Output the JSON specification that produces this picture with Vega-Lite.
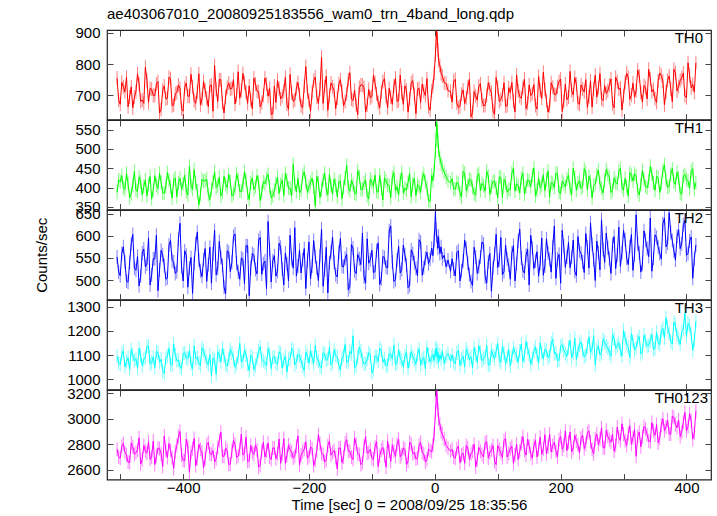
{
"$schema": "https://vega.github.io/schema/vega-lite/v6.json",
"padding": {"left": 34, "top": 6, "right": 5, "bottom": 5},
"spacing": 0,
"bounds": "flush",
"datasets": {"lc": [
{"t":-505,"a":755,"b":388,"c":552,"d":1095,"e":2760},
{"t":-500,"a":671,"b":415,"c":510,"d":1062,"e":2690},
{"t":-495,"a":727,"b":400,"c":575,"d":1118,"e":2805},
{"t":-490,"a":758,"b":437,"c":498,"d":1074,"e":2715},
{"t":-485,"a":694,"b":374,"c":540,"d":1041,"e":2655},
{"t":-480,"a":660,"b":407,"c":603,"d":1103,"e":2780},
{"t":-475,"a":711,"b":393,"c":522,"d":1086,"e":2735},
{"t":-470,"a":736,"b":427,"c":487,"d":1129,"e":2850},
{"t":-465,"a":685,"b":381,"c":561,"d":1057,"e":2680},
{"t":-460,"a":790,"b":420,"c":530,"d":1092,"e":2745},
{"t":-455,"a":677,"b":408,"c":595,"d":1138,"e":2820},
{"t":-450,"a":719,"b":371,"c":512,"d":1070,"e":2700},
{"t":-445,"a":699,"b":431,"c":548,"d":1049,"e":2640},
{"t":-440,"a":744,"b":398,"c":476,"d":1111,"e":2770},
{"t":-435,"a":655,"b":414,"c":567,"d":1083,"e":2725},
{"t":-430,"a":730,"b":386,"c":533,"d":1025,"e":2865},
{"t":-425,"a":691,"b":439,"c":505,"d":1097,"e":2695},
{"t":-420,"a":753,"b":402,"c":589,"d":1064,"e":2750},
{"t":-415,"a":669,"b":419,"c":541,"d":1146,"e":2610},
{"t":-410,"a":708,"b":376,"c":519,"d":1078,"e":2790},
{"t":-405,"a":722,"b":424,"c":628,"d":1052,"e":2900},
{"t":-400,"a":649,"b":410,"c":498,"d":1107,"e":2675},
{"t":-395,"a":739,"b":390,"c":556,"d":1089,"e":2840},
{"t":-390,"a":697,"b":455,"c":527,"d":1120,"e":2580},
{"t":-385,"a":727,"b":395,"c":470,"d":1043,"e":2765},
{"t":-380,"a":674,"b":412,"c":582,"d":1085,"e":2630},
{"t":-375,"a":769,"b":355,"c":545,"d":1068,"e":2800},
{"t":-370,"a":688,"b":422,"c":508,"d":1131,"e":2740},
{"t":-365,"a":716,"b":417,"c":571,"d":1096,"e":2685},
{"t":-360,"a":663,"b":383,"c":535,"d":1060,"e":2815},
{"t":-355,"a":733,"b":396,"c":493,"d":1015,"e":2720},
{"t":-350,"a":795,"b":441,"c":612,"d":1081,"e":2660},
{"t":-345,"a":680,"b":405,"c":526,"d":1114,"e":2775},
{"t":-340,"a":750,"b":378,"c":551,"d":1073,"e":2895},
{"t":-335,"a":643,"b":429,"c":484,"d":1099,"e":2705},
{"t":-330,"a":725,"b":400,"c":566,"d":1055,"e":2750},
{"t":-325,"a":720,"b":415,"c":519,"d":1125,"e":2645},
{"t":-320,"a":750,"b":385,"c":598,"d":1088,"e":2830},
{"t":-315,"a":700,"b":436,"c":538,"d":1066,"e":2695},
{"t":-310,"a":690,"b":391,"c":502,"d":1149,"e":2760},
{"t":-305,"a":770,"b":407,"c":547,"d":1077,"e":2715},
{"t":-300,"a":710,"b":420,"c":578,"d":1102,"e":2855},
{"t":-295,"a":730,"b":369,"c":465,"d":1036,"e":2670},
{"t":-290,"a":657,"b":425,"c":560,"d":1091,"e":2735},
{"t":-285,"a":736,"b":403,"c":524,"d":1058,"e":2795},
{"t":-280,"a":711,"b":414,"c":590,"d":1117,"e":2620},
{"t":-275,"a":677,"b":388,"c":513,"d":1082,"e":2745},
{"t":-270,"a":755,"b":410,"c":543,"d":1069,"e":2700},
{"t":-265,"a":697,"b":434,"c":632,"d":1127,"e":2810},
{"t":-260,"a":638,"b":373,"c":496,"d":1045,"e":2680},
{"t":-255,"a":730,"b":393,"c":555,"d":1094,"e":2770},
{"t":-250,"a":747,"b":427,"c":520,"d":1063,"e":2725},
{"t":-245,"a":688,"b":408,"c":574,"d":1108,"e":2650},
{"t":-240,"a":713,"b":379,"c":489,"d":1079,"e":2845},
{"t":-235,"a":671,"b":419,"c":537,"d":1030,"e":2710},
{"t":-230,"a":767,"b":398,"c":601,"d":1086,"e":2755},
{"t":-225,"a":680,"b":460,"c":527,"d":1121,"e":2690},
{"t":-220,"a":722,"b":390,"c":509,"d":1072,"e":2785},
{"t":-215,"a":702,"b":386,"c":568,"d":1098,"e":2635},
{"t":-210,"a":660,"b":431,"c":546,"d":1054,"e":2740},
{"t":-205,"a":792,"b":415,"c":481,"d":1112,"e":2820},
{"t":-200,"a":685,"b":402,"c":586,"d":1067,"e":2705},
{"t":-195,"a":708,"b":424,"c":532,"d":1090,"e":2765},
{"t":-190,"a":758,"b":352,"c":553,"d":1140,"e":2675},
{"t":-185,"a":674,"b":412,"c":499,"d":1076,"e":2875},
{"t":-180,"a":822,"b":395,"c":615,"d":1048,"e":2730},
{"t":-175,"a":727,"b":437,"c":524,"d":1105,"e":2660},
{"t":-170,"a":652,"b":381,"c":471,"d":1084,"e":2790},
{"t":-165,"a":739,"b":405,"c":563,"d":1061,"e":2715},
{"t":-160,"a":716,"b":422,"c":540,"d":1123,"e":2750},
{"t":-155,"a":691,"b":376,"c":507,"d":1093,"e":2605},
{"t":-150,"a":750,"b":417,"c":594,"d":1039,"e":2770},
{"t":-145,"a":666,"b":400,"c":530,"d":1100,"e":2700},
{"t":-140,"a":705,"b":458,"c":558,"d":1071,"e":2835},
{"t":-135,"a":772,"b":391,"c":486,"d":1116,"e":2745},
{"t":-130,"a":683,"b":408,"c":572,"d":1180,"e":2680},
{"t":-125,"a":669,"b":383,"c":515,"d":1056,"e":2800},
{"t":-120,"a":725,"b":429,"c":548,"d":1133,"e":2720},
{"t":-115,"a":733,"b":396,"c":606,"d":1080,"e":2655},
{"t":-110,"a":646,"b":420,"c":493,"d":1065,"e":2860},
{"t":-105,"a":719,"b":371,"c":538,"d":1110,"e":2735},
{"t":-100,"a":697,"b":414,"c":567,"d":1028,"e":2690},
{"t":-95,"a":741,"b":432,"c":519,"d":1097,"e":2780},
{"t":-90,"a":677,"b":388,"c":584,"d":1074,"e":2625},
{"t":-85,"a":711,"b":398,"c":503,"d":1119,"e":2755},
{"t":-80,"a":753,"b":425,"c":551,"d":1085,"e":2710},
{"t":-75,"a":660,"b":407,"c":528,"d":1059,"e":2825},
{"t":-70,"a":694,"b":374,"c":622,"d":1103,"e":2665},
{"t":-65,"a":730,"b":439,"c":497,"d":1142,"e":2745},
{"t":-60,"a":680,"b":403,"c":545,"d":1069,"e":2800},
{"t":-55,"a":764,"b":419,"c":516,"d":1088,"e":2700},
{"t":-50,"a":671,"b":386,"c":579,"d":1051,"e":2770},
{"t":-45,"a":716,"b":393,"c":534,"d":1113,"e":2640},
{"t":-40,"a":688,"b":436,"c":488,"d":1078,"e":2815},
{"t":-35,"a":747,"b":410,"c":560,"d":1095,"e":2725},
{"t":-30,"a":641,"b":379,"c":526,"d":1062,"e":2685},
{"t":-25,"a":722,"b":402,"c":591,"d":1126,"e":2790},
{"t":-20,"a":736,"b":424,"c":511,"d":1083,"e":2735},
{"t":-15,"a":699,"b":415,"c":549,"d":1044,"e":2660},
{"t":-10,"a":663,"b":366,"c":537,"d":1101,"e":2760},
{"t":-5,"a":713,"b":431,"c":572,"d":1090,"e":2740},
{"t":-3,"a":728,"b":418,"c":555,"d":1102,"e":2790},
{"t":-1,"a":770,"b":445,"c":590,"d":1078,"e":2880},
{"t":1,"a":830,"b":495,"c":652,"d":1125,"e":3050},
{"t":2,"a":872,"b":525,"c":615,"d":1096,"e":3130},
{"t":3,"a":905,"b":570,"c":600,"d":1130,"e":3220},
{"t":4,"a":880,"b":548,"c":585,"d":1090,"e":3150},
{"t":5,"a":845,"b":520,"c":572,"d":1112,"e":3070},
{"t":6,"a":812,"b":497,"c":598,"d":1070,"e":3000},
{"t":8,"a":796,"b":478,"c":560,"d":1101,"e":2960},
{"t":10,"a":770,"b":462,"c":575,"d":1083,"e":2900},
{"t":12,"a":762,"b":452,"c":548,"d":1118,"e":2880},
{"t":15,"a":740,"b":440,"c":556,"d":1064,"e":2840},
{"t":18,"a":738,"b":428,"c":530,"d":1095,"e":2790},
{"t":21,"a":715,"b":418,"c":545,"d":1107,"e":2770},
{"t":25,"a":712,"b":412,"c":520,"d":1076,"e":2745},
{"t":30,"a":745,"b":396,"c":525,"d":1072,"e":2700},
{"t":35,"a":675,"b":413,"c":562,"d":1110,"e":2765},
{"t":40,"a":664,"b":386,"c":498,"d":1058,"e":2655},
{"t":45,"a":717,"b":442,"c":543,"d":1095,"e":2730},
{"t":50,"a":692,"b":392,"c":571,"d":1126,"e":2790},
{"t":55,"a":751,"b":422,"c":512,"d":1081,"e":2680},
{"t":60,"a":645,"b":400,"c":488,"d":1047,"e":2745},
{"t":65,"a":698,"b":380,"c":552,"d":1104,"e":2620},
{"t":70,"a":729,"b":436,"c":530,"d":1139,"e":2775},
{"t":75,"a":684,"b":411,"c":586,"d":1077,"e":2720},
{"t":80,"a":667,"b":391,"c":507,"d":1093,"e":2810},
{"t":85,"a":740,"b":430,"c":541,"d":1061,"e":2690},
{"t":90,"a":709,"b":403,"c":475,"d":1122,"e":2755},
{"t":95,"a":639,"b":417,"c":559,"d":1085,"e":2665},
{"t":100,"a":725,"b":373,"c":528,"d":1148,"e":2790},
{"t":105,"a":687,"b":426,"c":596,"d":1070,"e":2730},
{"t":110,"a":740,"b":421,"c":519,"d":1109,"e":2830},
{"t":115,"a":666,"b":388,"c":547,"d":1091,"e":2700},
{"t":120,"a":708,"b":395,"c":502,"d":1055,"e":2765},
{"t":125,"a":681,"b":450,"c":578,"d":1131,"e":2650},
{"t":130,"a":765,"b":410,"c":537,"d":1098,"e":2800},
{"t":135,"a":696,"b":386,"c":615,"d":1117,"e":2745},
{"t":140,"a":724,"b":437,"c":521,"d":1074,"e":2860},
{"t":145,"a":657,"b":402,"c":556,"d":1156,"e":2715},
{"t":150,"a":733,"b":417,"c":489,"d":1102,"e":2785},
{"t":155,"a":706,"b":431,"c":572,"d":1085,"e":2690},
{"t":160,"a":667,"b":378,"c":543,"d":1134,"e":2830},
{"t":165,"a":760,"b":425,"c":509,"d":1067,"e":2760},
{"t":170,"a":690,"b":408,"c":595,"d":1112,"e":2720},
{"t":175,"a":719,"b":392,"c":532,"d":1125,"e":2875},
{"t":180,"a":646,"b":443,"c":561,"d":1089,"e":2780},
{"t":185,"a":740,"b":413,"c":518,"d":1150,"e":2740},
{"t":190,"a":703,"b":400,"c":622,"d":1106,"e":2815},
{"t":195,"a":727,"b":436,"c":547,"d":1078,"e":2700},
{"t":200,"a":752,"b":385,"c":493,"d":1137,"e":2860},
{"t":205,"a":680,"b":410,"c":576,"d":1121,"e":2790},
{"t":210,"a":686,"b":422,"c":552,"d":1095,"e":2750},
{"t":215,"a":776,"b":397,"c":528,"d":1162,"e":2895},
{"t":220,"a":701,"b":450,"c":590,"d":1110,"e":2770},
{"t":225,"a":735,"b":393,"c":510,"d":1082,"e":2825},
{"t":230,"a":671,"b":418,"c":566,"d":1143,"e":2730},
{"t":235,"a":720,"b":403,"c":541,"d":1118,"e":2870},
{"t":240,"a":750,"b":440,"c":605,"d":1099,"e":2800},
{"t":245,"a":695,"b":429,"c":527,"d":1175,"e":2905},
{"t":250,"a":662,"b":373,"c":581,"d":1126,"e":2760},
{"t":255,"a":764,"b":409,"c":499,"d":1060,"e":2840},
{"t":260,"a":724,"b":446,"c":562,"d":1139,"e":2795},
{"t":265,"a":689,"b":398,"c":636,"d":1112,"e":2930},
{"t":270,"a":731,"b":418,"c":540,"d":1155,"e":2770},
{"t":275,"a":715,"b":434,"c":573,"d":1130,"e":2860},
{"t":280,"a":752,"b":387,"c":515,"d":1096,"e":2815},
{"t":285,"a":660,"b":425,"c":598,"d":1168,"e":2745},
{"t":290,"a":744,"b":409,"c":557,"d":1140,"e":2935},
{"t":295,"a":723,"b":450,"c":531,"d":1119,"e":2830},
{"t":300,"a":698,"b":393,"c":612,"d":1203,"e":2880},
{"t":305,"a":771,"b":403,"c":549,"d":1145,"e":2790},
{"t":310,"a":687,"b":439,"c":575,"d":1090,"e":2945},
{"t":315,"a":739,"b":417,"c":522,"d":1158,"e":2850},
{"t":320,"a":714,"b":430,"c":647,"d":1132,"e":2705},
{"t":325,"a":762,"b":381,"c":561,"d":1177,"e":2895},
{"t":330,"a":678,"b":445,"c":536,"d":1115,"e":2860},
{"t":335,"a":724,"b":403,"c":590,"d":1160,"e":2920},
{"t":340,"a":783,"b":417,"c":553,"d":1141,"e":2825},
{"t":345,"a":711,"b":436,"c":520,"d":1186,"e":2970},
{"t":350,"a":689,"b":393,"c":602,"d":1128,"e":2870},
{"t":355,"a":746,"b":426,"c":574,"d":1152,"e":2810},
{"t":360,"a":763,"b":410,"c":548,"d":1199,"e":2950},
{"t":365,"a":669,"b":459,"c":640,"d":1170,"e":2905},
{"t":370,"a":748,"b":401,"c":583,"d":1214,"e":2990},
{"t":375,"a":721,"b":434,"c":607,"d":1158,"e":2880},
{"t":380,"a":783,"b":415,"c":566,"d":1236,"e":3010},
{"t":385,"a":714,"b":440,"c":598,"d":1181,"e":2930},
{"t":390,"a":747,"b":386,"c":571,"d":1145,"e":2860},
{"t":395,"a":771,"b":430,"c":625,"d":1207,"e":2975},
{"t":400,"a":692,"b":422,"c":556,"d":1178,"e":2905},
{"t":405,"a":763,"b":398,"c":588,"d":1222,"e":3040},
{"t":410,"a":735,"b":449,"c":504,"d":1120,"e":2840},
{"t":415,"a":804,"b":412,"c":579,"d":1240,"e":3060},
{"t":-502.5,"a":685,"b":420,"c":518,"d":1068,"e":2700},
{"t":-497.5,"a":741,"b":431,"c":560,"d":1105,"e":2785},
{"t":-492.5,"a":711,"b":395,"c":541,"d":1052,"e":2735},
{"t":-487.5,"a":663,"b":410,"c":495,"d":1090,"e":2660},
{"t":-482.5,"a":727,"b":385,"c":582,"d":1124,"e":2810},
{"t":-477.5,"a":694,"b":442,"c":527,"d":1077,"e":2720},
{"t":-472.5,"a":769,"b":390,"c":553,"d":1046,"e":2755},
{"t":-467.5,"a":680,"b":415,"c":509,"d":1099,"e":2645},
{"t":-462.5,"a":674,"b":403,"c":570,"d":1082,"e":2790},
{"t":-457.5,"a":747,"b":378,"c":536,"d":1136,"e":2730},
{"t":-452.5,"a":722,"b":429,"c":489,"d":1063,"e":2680},
{"t":-447.5,"a":699,"b":393,"c":548,"d":1093,"e":2825},
{"t":-442.5,"a":736,"b":407,"c":601,"d":1115,"e":2710},
{"t":-437.5,"a":643,"b":437,"c":523,"d":1071,"e":2765},
{"t":-432.5,"a":716,"b":386,"c":557,"d":1034,"e":2625},
{"t":-427.5,"a":688,"b":402,"c":502,"d":1087,"e":2750},
{"t":-422.5,"a":758,"b":419,"c":579,"d":1128,"e":2805},
{"t":-417.5,"a":666,"b":373,"c":544,"d":1059,"e":2695},
{"t":-412.5,"a":705,"b":425,"c":515,"d":1101,"e":2740},
{"t":-407.5,"a":733,"b":412,"c":592,"d":1079,"e":2860},
{"t":-402.5,"a":657,"b":396,"c":530,"d":1044,"e":2715},
{"t":-397.5,"a":725,"b":432,"c":566,"d":1110,"e":2670},
{"t":-392.5,"a":697,"b":381,"c":484,"d":1085,"e":2780},
{"t":-387.5,"a":767,"b":405,"c":551,"d":1066,"e":2735},
{"t":-382.5,"a":683,"b":446,"c":538,"d":1139,"e":2845},
{"t":-377.5,"a":711,"b":391,"c":608,"d":1092,"e":2690},
{"t":-372.5,"a":669,"b":383,"c":521,"d":1057,"e":2760},
{"t":-367.5,"a":744,"b":417,"c":546,"d":1118,"e":2615},
{"t":-362.5,"a":691,"b":422,"c":497,"d":1074,"e":2795},
{"t":-357.5,"a":730,"b":369,"c":574,"d":1102,"e":2725},
{"t":-352.5,"a":649,"b":414,"c":559,"d":1089,"e":2750},
{"t":-347.5,"a":719,"b":400,"c":512,"d":1021,"e":2685},
{"t":-342.5,"a":750,"b":427,"c":587,"d":1097,"e":2830},
{"t":-337.5,"a":677,"b":388,"c":533,"d":1130,"e":2705},
{"t":-332.5,"a":694,"b":408,"c":469,"d":1062,"e":2770},
{"t":-327.5,"a":739,"b":434,"c":563,"d":1084,"e":2640},
{"t":-322.5,"a":722,"b":378,"c":540,"d":1109,"e":2745},
{"t":-317.5,"a":672,"b":398,"c":604,"d":1050,"e":2800},
{"t":-312.5,"a":775,"b":420,"c":519,"d":1093,"e":2710},
{"t":-307.5,"a":716,"b":390,"c":550,"d":1072,"e":2880},
{"t":-302.5,"a":740,"b":441,"c":492,"d":1121,"e":2730},
{"t":-297.5,"a":674,"b":385,"c":577,"d":1064,"e":2665},
{"t":-292.5,"a":685,"b":412,"c":528,"d":1098,"e":2790},
{"t":-287.5,"a":755,"b":395,"c":556,"d":1041,"e":2720},
{"t":-282.5,"a":713,"b":431,"c":514,"d":1086,"e":2755},
{"t":-277.5,"a":663,"b":366,"c":596,"d":1134,"e":2635},
{"t":-272.5,"a":699,"b":415,"c":537,"d":1076,"e":2815},
{"t":-267.5,"a":736,"b":424,"c":481,"d":1058,"e":2745},
{"t":-262.5,"a":722,"b":402,"c":569,"d":1105,"e":2700},
{"t":-257.5,"a":641,"b":379,"c":543,"d":1091,"e":2770},
{"t":-252.5,"a":677,"b":410,"c":509,"d":1069,"e":2685},
{"t":-247.5,"a":722,"b":385,"c":583,"d":1114,"e":2840},
{"t":-242.5,"a":697,"b":419,"c":525,"d":1047,"e":2725},
{"t":-237.5,"a":758,"b":437,"c":561,"d":1095,"e":2650},
{"t":-232.5,"a":655,"b":398,"c":498,"d":1082,"e":2795},
{"t":-227.5,"a":708,"b":378,"c":548,"d":1127,"e":2740},
{"t":-222.5,"a":685,"b":408,"c":618,"d":1060,"e":2705},
{"t":-217.5,"a":741,"b":424,"c":532,"d":1103,"e":2865},
{"t":-212.5,"a":666,"b":393,"c":516,"d":1077,"e":2715},
{"t":-207.5,"a":730,"b":441,"c":571,"d":1038,"e":2760},
{"t":-202.5,"a":711,"b":388,"c":544,"d":1096,"e":2690},
{"t":-197.5,"a":649,"b":414,"c":503,"d":1120,"e":2780},
{"t":-192.5,"a":747,"b":402,"c":589,"d":1066,"e":2630},
{"t":-187.5,"a":694,"b":429,"c":527,"d":1088,"e":2750},
{"t":-182.5,"a":719,"b":374,"c":555,"d":1053,"e":2805},
{"t":-177.5,"a":674,"b":420,"c":486,"d":1111,"e":2720},
{"t":-172.5,"a":761,"b":396,"c":574,"d":1079,"e":2675},
{"t":-167.5,"a":699,"b":434,"c":539,"d":1132,"e":2825},
{"t":-162.5,"a":727,"b":383,"c":597,"d":1070,"e":2735},
{"t":-157.5,"a":657,"b":407,"c":512,"d":1099,"e":2695},
{"t":-152.5,"a":736,"b":415,"c":562,"d":1058,"e":2770},
{"t":-147.5,"a":713,"b":371,"c":531,"d":1087,"e":2655},
{"t":-142.5,"a":680,"b":425,"c":549,"d":1145,"e":2810},
{"t":-137.5,"a":750,"b":400,"c":478,"d":1073,"e":2745},
{"t":-132.5,"a":688,"b":419,"c":580,"d":1106,"e":2700},
{"t":-127.5,"a":716,"b":386,"c":521,"d":1049,"e":2850},
{"t":-122.5,"a":638,"b":444,"c":558,"d":1092,"e":2725},
{"t":-117.5,"a":733,"b":395,"c":535,"d":1117,"e":2640},
{"t":-112.5,"a":725,"b":412,"c":507,"d":1065,"e":2785},
{"t":-107.5,"a":669,"b":379,"c":593,"d":1083,"e":2730},
{"t":-102.5,"a":691,"b":422,"c":546,"d":1101,"e":2760},
{"t":-97.5,"a":764,"b":403,"c":517,"d":1040,"e":2680},
{"t":-92.5,"a":705,"b":390,"c":566,"d":1094,"e":2820},
{"t":-87.5,"a":660,"b":432,"c":490,"d":1128,"e":2710},
{"t":-82.5,"a":744,"b":368,"c":553,"d":1071,"e":2775},
{"t":-77.5,"a":697,"b":417,"c":529,"d":1056,"e":2620},
{"t":-72.5,"a":722,"b":405,"c":611,"d":1108,"e":2745},
{"t":-67.5,"a":671,"b":427,"c":540,"d":1085,"e":2795},
{"t":-62.5,"a":755,"b":391,"c":501,"d":1063,"e":2705},
{"t":-57.5,"a":683,"b":381,"c":576,"d":1124,"e":2840},
{"t":-52.5,"a":708,"b":439,"c":524,"d":1078,"e":2720},
{"t":-47.5,"a":730,"b":398,"c":557,"d":1097,"e":2760},
{"t":-42.5,"a":646,"b":414,"c":483,"d":1046,"e":2665},
{"t":-37.5,"a":739,"b":376,"c":568,"d":1115,"e":2800},
{"t":-32.5,"a":702,"b":424,"c":539,"d":1080,"e":2735},
{"t":-27.5,"a":719,"b":408,"c":510,"d":1104,"e":2690},
{"t":-22.5,"a":677,"b":388,"c":586,"d":1059,"e":2815},
{"t":-17.5,"a":713,"b":436,"c":528,"d":1091,"e":2725},
{"t":-12.5,"a":753,"b":400,"c":563,"d":1133,"e":2680},
{"t":-7.5,"a":652,"b":364,"c":547,"d":1072,"e":2750},
{"t":27.5,"a":678,"b":423,"c":548,"d":1101,"e":2760},
{"t":32.5,"a":751,"b":396,"c":509,"d":1064,"e":2690},
{"t":37.5,"a":661,"b":411,"c":566,"d":1120,"e":2785},
{"t":42.5,"a":703,"b":375,"c":521,"d":1083,"e":2715},
{"t":47.5,"a":673,"b":438,"c":590,"d":1052,"e":2650},
{"t":52.5,"a":726,"b":405,"c":538,"d":1109,"e":2770},
{"t":57.5,"a":631,"b":419,"c":497,"d":1094,"e":2725},
{"t":62.5,"a":712,"b":385,"c":574,"d":1131,"e":2800},
{"t":67.5,"a":684,"b":431,"c":515,"d":1070,"e":2680},
{"t":72.5,"a":737,"b":392,"c":552,"d":1112,"e":2745},
{"t":77.5,"a":667,"b":405,"c":581,"d":1086,"e":2700},
{"t":82.5,"a":698,"b":442,"c":493,"d":1142,"e":2820},
{"t":87.5,"a":720,"b":382,"c":560,"d":1059,"e":2735},
{"t":92.5,"a":650,"b":415,"c":527,"d":1100,"e":2790},
{"t":97.5,"a":757,"b":399,"c":603,"d":1118,"e":2640},
{"t":102.5,"a":680,"b":428,"c":545,"d":1081,"e":2760},
{"t":107.5,"a":701,"b":375,"c":512,"d":1137,"e":2695},
{"t":112.5,"a":665,"b":412,"c":579,"d":1066,"e":2845},
{"t":117.5,"a":724,"b":395,"c":534,"d":1124,"e":2730},
{"t":122.5,"a":741,"b":438,"c":561,"d":1093,"e":2785},
{"t":127.5,"a":647,"b":391,"c":498,"d":1110,"e":2715},
{"t":132.5,"a":714,"b":405,"c":588,"d":1071,"e":2680},
{"t":137.5,"a":690,"b":425,"c":550,"d":1146,"e":2805},
{"t":142.5,"a":752,"b":383,"c":516,"d":1097,"e":2750},
{"t":147.5,"a":674,"b":420,"c":570,"d":1128,"e":2840},
{"t":152.5,"a":699,"b":403,"c":601,"d":1063,"e":2725},
{"t":157.5,"a":734,"b":451,"c":526,"d":1115,"e":2790},
{"t":162.5,"a":656,"b":393,"c":564,"d":1102,"e":2700},
{"t":167.5,"a":715,"b":399,"c":538,"d":1151,"e":2855},
{"t":172.5,"a":774,"b":433,"c":511,"d":1084,"e":2765},
{"t":177.5,"a":683,"b":420,"c":593,"d":1120,"e":2725},
{"t":182.5,"a":666,"b":375,"c":547,"d":1098,"e":2880},
{"t":187.5,"a":726,"b":411,"c":575,"d":1166,"e":2790},
{"t":192.5,"a":701,"b":438,"c":504,"d":1111,"e":2745},
{"t":197.5,"a":744,"b":388,"c":558,"d":1079,"e":2835},
{"t":202.5,"a":648,"b":417,"c":612,"d":1143,"e":2760},
{"t":207.5,"a":736,"b":402,"c":529,"d":1108,"e":2905},
{"t":212.5,"a":694,"b":432,"c":585,"d":1132,"e":2815},
{"t":217.5,"a":715,"b":382,"c":551,"d":1090,"e":2740},
{"t":222.5,"a":757,"b":427,"c":520,"d":1171,"e":2870},
{"t":227.5,"a":674,"b":411,"c":598,"d":1117,"e":2795},
{"t":232.5,"a":733,"b":398,"c":560,"d":1155,"e":2850},
{"t":237.5,"a":711,"b":449,"c":517,"d":1094,"e":2765},
{"t":242.5,"a":661,"b":394,"c":574,"d":1136,"e":2890},
{"t":247.5,"a":746,"b":416,"c":629,"d":1112,"e":2820},
{"t":252.5,"a":721,"b":405,"c":546,"d":1181,"e":2725},
{"t":257.5,"a":694,"b":431,"c":588,"d":1124,"e":2880},
{"t":262.5,"a":769,"b":410,"c":523,"d":1101,"e":2840},
{"t":267.5,"a":683,"b":386,"c":569,"d":1167,"e":2775},
{"t":272.5,"a":706,"b":447,"c":606,"d":1138,"e":2910},
{"t":277.5,"a":732,"b":427,"c":548,"d":1110,"e":2835},
{"t":282.5,"a":673,"b":393,"c":580,"d":1185,"e":2880},
{"t":287.5,"a":758,"b":413,"c":526,"d":1129,"e":2790},
{"t":292.5,"a":719,"b":442,"c":619,"d":1152,"e":2855},
{"t":297.5,"a":653,"b":402,"c":562,"d":1097,"e":2960},
{"t":302.5,"a":742,"b":424,"c":591,"d":1170,"e":2830},
{"t":307.5,"a":757,"b":378,"c":535,"d":1132,"e":2885},
{"t":312.5,"a":701,"b":432,"c":603,"d":1189,"e":2800},
{"t":317.5,"a":694,"b":436,"c":557,"d":1121,"e":2915},
{"t":322.5,"a":781,"b":392,"c":582,"d":1162,"e":2860},
{"t":327.5,"a":709,"b":408,"c":518,"d":1106,"e":2780},
{"t":332.5,"a":731,"b":421,"c":611,"d":1183,"e":2940},
{"t":337.5,"a":688,"b":399,"c":571,"d":1138,"e":2875},
{"t":342.5,"a":752,"b":455,"c":640,"d":1160,"e":2820},
{"t":347.5,"a":719,"b":412,"c":549,"d":1124,"e":2905},
{"t":352.5,"a":677,"b":429,"c":596,"d":1196,"e":2955},
{"t":357.5,"a":771,"b":387,"c":560,"d":1143,"e":2845},
{"t":362.5,"a":746,"b":444,"c":627,"d":1211,"e":3000},
{"t":367.5,"a":711,"b":420,"c":575,"d":1255,"e":2935},
{"t":372.5,"a":762,"b":403,"c":652,"d":1190,"e":2880},
{"t":377.5,"a":679,"b":449,"c":589,"d":1147,"e":3020},
{"t":382.5,"a":772,"b":408,"c":545,"d":1226,"e":2955},
{"t":387.5,"a":728,"b":425,"c":614,"d":1168,"e":2990},
{"t":392.5,"a":756,"b":383,"c":582,"d":1198,"e":2895},
{"t":397.5,"a":698,"b":434,"c":634,"d":1275,"e":3050},
{"t":402.5,"a":804,"b":417,"c":560,"d":1231,"e":2940},
{"t":407.5,"a":724,"b":442,"c":597,"d":1187,"e":2985},
{"t":412.5,"a":710,"b":396,"c":548,"d":1163,"e":2890}
]},
"config": {
  "font": "Liberation Sans",
  "view": {"stroke": "#222", "strokeWidth": 1.2},
  "axis": {"domain": false, "grid": false, "tickSize": -6, "tickColor": "#444", "tickWidth": 1,
           "labelFont": "Liberation Sans", "labelFontSize": 15, "labelColor": "#000", "labelPadding": 13,
           "titleFont": "Liberation Sans", "titleFontSize": 15, "titleFontWeight": "normal", "titleColor": "#000"},
  "axisX": {"labelPadding": 7},
  "title": {"font": "Liberation Sans", "fontSize": 15, "fontWeight": "normal", "color": "#000"}
},
"vconcat": [
{
 "data": {"name": "lc"},
 "width": 604, "height": 89.6,
 "title": {"text": "ae403067010_20080925183556_wam0_trn_4band_long.qdp", "anchor": "start", "frame": "group", "offset": 4},
 "layer": [
  {"mark": {"type": "tick", "orient": "vertical", "color": "#ff0000", "opacity": 0.5, "size": 14, "thickness": 1, "clip": true},
   "encoding": {
    "x": {"field": "t", "type": "quantitative", "scale": {"domain": [-521, 439], "nice": false, "zero": false}, "axis": {"orient": "top", "values": [-500,-400,-300,-200,-100,0,100,200,300,400], "labels": false, "title": null}},
    "y": {"field": "a", "type": "quantitative", "scale": {"domain": [622, 909], "nice": false, "zero": false}, "axis": {"orient": "right", "values": [700, 800, 900], "labels": false, "title": null}}}},
  {"mark": {"type": "line", "color": "#ff0000", "strokeWidth": 1, "clip": true},
   "encoding": {
    "x": {"field": "t", "type": "quantitative", "axis": {"orient": "bottom", "values": [-500,-400,-300,-200,-100,0,100,200,300,400], "labels": false, "title": null}},
    "y": {"field": "a", "type": "quantitative", "axis": {"orient": "left", "values": [700, 800, 900], "format": "d", "title": null}}}},
  {"data": {"values": [{"label": "TH0"}]},
   "mark": {"type": "text", "align": "right", "baseline": "top", "fontSize": 15, "font": "Liberation Sans", "dx": -8, "dy": 1, "color": "#000"},
   "encoding": {"x": {"datum": 439, "type": "quantitative", "axis": null}, "y": {"datum": 909, "type": "quantitative", "axis": null}, "text": {"field": "label"}}}
 ],
 "resolve": {"axis": {"x": "independent", "y": "independent"}}
},
{
 "data": {"name": "lc"},
 "width": 604, "height": 89.6,
 "layer": [
  {"mark": {"type": "tick", "orient": "vertical", "color": "#00ff00", "opacity": 0.5, "size": 14, "thickness": 1, "clip": true},
   "encoding": {
    "x": {"field": "t", "type": "quantitative", "scale": {"domain": [-521, 439], "nice": false, "zero": false}, "axis": {"orient": "top", "values": [-500,-400,-300,-200,-100,0,100,200,300,400], "labels": false, "title": null}},
    "y": {"field": "b", "type": "quantitative", "scale": {"domain": [343, 575], "nice": false, "zero": false}, "axis": {"orient": "right", "values": [350, 400, 450, 500, 550], "labels": false, "title": null}}}},
  {"mark": {"type": "line", "color": "#00ff00", "strokeWidth": 1, "clip": true},
   "encoding": {
    "x": {"field": "t", "type": "quantitative", "axis": {"orient": "bottom", "values": [-500,-400,-300,-200,-100,0,100,200,300,400], "labels": false, "title": null}},
    "y": {"field": "b", "type": "quantitative", "axis": {"orient": "left", "values": [350, 400, 450, 500, 550], "format": "d", "title": null}}}},
  {"data": {"values": [{"label": "TH1"}]},
   "mark": {"type": "text", "align": "right", "baseline": "top", "fontSize": 15, "font": "Liberation Sans", "dx": -8, "dy": 1, "color": "#000"},
   "encoding": {"x": {"datum": 439, "type": "quantitative", "axis": null}, "y": {"datum": 575, "type": "quantitative", "axis": null}, "text": {"field": "label"}}}
 ],
 "resolve": {"axis": {"x": "independent", "y": "independent"}}
},
{
 "data": {"name": "lc"},
 "width": 604, "height": 89.6,
 "layer": [
  {"mark": {"type": "tick", "orient": "vertical", "color": "#0000ff", "opacity": 0.5, "size": 14, "thickness": 1, "clip": true},
   "encoding": {
    "x": {"field": "t", "type": "quantitative", "scale": {"domain": [-521, 439], "nice": false, "zero": false}, "axis": {"orient": "top", "values": [-500,-400,-300,-200,-100,0,100,200,300,400], "labels": false, "title": null}},
    "y": {"field": "c", "type": "quantitative", "scale": {"domain": [456, 658], "nice": false, "zero": false}, "axis": {"orient": "right", "values": [500, 550, 600, 650], "labels": false, "title": null}}}},
  {"mark": {"type": "line", "color": "#0000ff", "strokeWidth": 1, "clip": true},
   "encoding": {
    "x": {"field": "t", "type": "quantitative", "axis": {"orient": "bottom", "values": [-500,-400,-300,-200,-100,0,100,200,300,400], "labels": false, "title": null}},
    "y": {"field": "c", "type": "quantitative", "axis": {"orient": "left", "values": [500, 550, 600, 650], "format": "d", "title": "Counts/sec", "titlePadding": 25}}}},
  {"data": {"values": [{"label": "TH2"}]},
   "mark": {"type": "text", "align": "right", "baseline": "top", "fontSize": 15, "font": "Liberation Sans", "dx": -8, "dy": 1, "color": "#000"},
   "encoding": {"x": {"datum": 439, "type": "quantitative", "axis": null}, "y": {"datum": 658, "type": "quantitative", "axis": null}, "text": {"field": "label"}}}
 ],
 "resolve": {"axis": {"x": "independent", "y": "independent"}}
},
{
 "data": {"name": "lc"},
 "width": 604, "height": 89.6,
 "layer": [
  {"mark": {"type": "tick", "orient": "vertical", "color": "#00ffff", "opacity": 0.5, "size": 14, "thickness": 1, "clip": true},
   "encoding": {
    "x": {"field": "t", "type": "quantitative", "scale": {"domain": [-521, 439], "nice": false, "zero": false}, "axis": {"orient": "top", "values": [-500,-400,-300,-200,-100,0,100,200,300,400], "labels": false, "title": null}},
    "y": {"field": "d", "type": "quantitative", "scale": {"domain": [958, 1328], "nice": false, "zero": false}, "axis": {"orient": "right", "values": [1000, 1100, 1200, 1300], "labels": false, "title": null}}}},
  {"mark": {"type": "line", "color": "#00ffff", "strokeWidth": 1, "clip": true},
   "encoding": {
    "x": {"field": "t", "type": "quantitative", "axis": {"orient": "bottom", "values": [-500,-400,-300,-200,-100,0,100,200,300,400], "labels": false, "title": null}},
    "y": {"field": "d", "type": "quantitative", "axis": {"orient": "left", "values": [1000, 1100, 1200, 1300], "format": "d", "title": null}}}},
  {"data": {"values": [{"label": "TH3"}]},
   "mark": {"type": "text", "align": "right", "baseline": "top", "fontSize": 15, "font": "Liberation Sans", "dx": -8, "dy": 1, "color": "#000"},
   "encoding": {"x": {"datum": 439, "type": "quantitative", "axis": null}, "y": {"datum": 1328, "type": "quantitative", "axis": null}, "text": {"field": "label"}}}
 ],
 "resolve": {"axis": {"x": "independent", "y": "independent"}}
},
{
 "data": {"name": "lc"},
 "width": 604, "height": 89.6,
 "layer": [
  {"mark": {"type": "tick", "orient": "vertical", "color": "#ff00ff", "opacity": 0.5, "size": 14, "thickness": 1, "clip": true},
   "encoding": {
    "x": {"field": "t", "type": "quantitative", "scale": {"domain": [-521, 439], "nice": false, "zero": false}, "axis": {"orient": "top", "values": [-500,-400,-300,-200,-100,0,100,200,300,400], "labels": false, "title": null}},
    "y": {"field": "e", "type": "quantitative", "scale": {"domain": [2522, 3226], "nice": false, "zero": false}, "axis": {"orient": "right", "values": [2600, 2800, 3000, 3200], "labels": false, "title": null}}}},
  {"mark": {"type": "line", "color": "#ff00ff", "strokeWidth": 1, "clip": true},
   "encoding": {
    "x": {"field": "t", "type": "quantitative", "axis": {"orient": "bottom", "values": [-500,-400,-300,-200,-100,0,100,200,300,400], "labelExpr": "datum.value % 200 == 0 ? datum.label : ''", "title": "Time [sec] 0 = 2008/09/25 18:35:56", "titlePadding": 2}},
    "y": {"field": "e", "type": "quantitative", "axis": {"orient": "left", "values": [2600, 2800, 3000, 3200], "format": "d", "title": null}}}},
  {"data": {"values": [{"label": "TH0123"}]},
   "mark": {"type": "text", "align": "right", "baseline": "top", "fontSize": 15, "font": "Liberation Sans", "dx": -3, "dy": 1, "color": "#000"},
   "encoding": {"x": {"datum": 439, "type": "quantitative", "axis": null}, "y": {"datum": 3226, "type": "quantitative", "axis": null}, "text": {"field": "label"}}}
 ],
 "resolve": {"axis": {"x": "independent", "y": "independent"}}
}
]
}
